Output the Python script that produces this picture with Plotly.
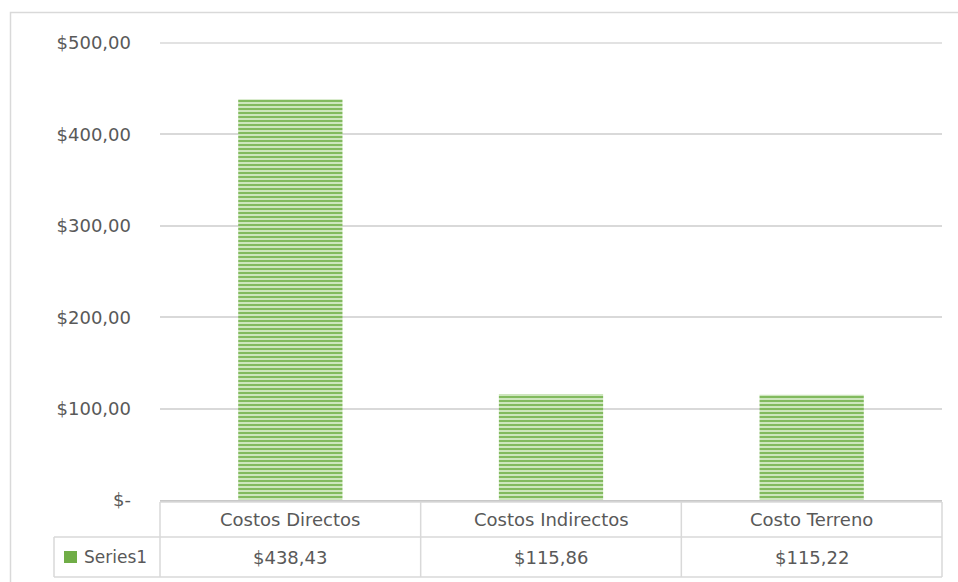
import plotly.graph_objects as go

# Cost breakdown
categories = ["Costos Directos", "Costos Indirectos", "Costo Terreno"]
values = [438.43, 115.86, 115.22]
series_name = "Series1"
tick_values = [0, 100, 200, 300, 400, 500]
tick_labels = ["$-", "$100,00", "$200,00", "$300,00", "$400,00", "$500,00"]

W, H = 958, 582
ML, MR, MT, MB = 160, 16, 43, 82
PW, PH = W - ML - MR, H - MT - MB

GREEN = "#70AD47"
GREEN_LIGHT = "#cde6bd"
GRID = "#d9d9d9"
TEXT = "#595959"
FONT = "DejaVu Sans"
FS = 18


def px_to_py(p):
    """Pixel row -> paper y."""
    return (H - MB - p) / PH


def px_to_px(p):
    """Pixel column -> paper x."""
    return (p - ML) / PW


def money(v):
    return "$" + f"{v:,.2f}".replace(",", "X").replace(".", ",").replace("X", ".")


n = len(categories)

fig = go.Figure(
    go.Bar(
        x=list(range(n)),
        y=values,
        width=0.4,
        name=series_name,
        marker=dict(
            color=GREEN_LIGHT,
            line=dict(width=0),
            pattern=dict(shape="-", fgcolor="#79b553", bgcolor=GREEN_LIGHT,
                         size=4, solidity=0.45, fillmode="replace"),
        ),
        showlegend=False,
    )
)

shapes = []
annotations = []

# outer chart frame
shapes.append(dict(type="rect", xref="paper", yref="paper",
                   x0=px_to_px(10.5), x1=px_to_px(1010), y0=px_to_py(620), y1=px_to_py(12.5),
                   line=dict(color="#d9d9d9", width=1.5), fillcolor="rgba(0,0,0,0)", layer="below"))

# top grid line at the end of the value range
shapes.append(dict(type="line", xref="paper", yref="paper", x0=0, x1=1, y0=1, y1=1,
                   line=dict(color=GRID, width=1.5), layer="below"))

# data table grid
top, mid, bot = px_to_py(502), px_to_py(537), px_to_py(577)
leg_left = px_to_px(54)
shapes.append(dict(type="line", xref="paper", yref="paper", x0=0, x1=1, y0=top, y1=top,
                   line=dict(color=GRID, width=1.5)))
shapes.append(dict(type="line", xref="paper", yref="paper", x0=leg_left, x1=1, y0=mid, y1=mid,
                   line=dict(color=GRID, width=1.5)))
shapes.append(dict(type="line", xref="paper", yref="paper", x0=leg_left, x1=1, y0=bot, y1=bot,
                   line=dict(color=GRID, width=1.5)))
shapes.append(dict(type="line", xref="paper", yref="paper", x0=leg_left, x1=leg_left, y0=mid, y1=bot,
                   line=dict(color=GRID, width=1.5)))
for i in range(n + 1):
    xp = i / n
    shapes.append(dict(type="line", xref="paper", yref="paper", x0=xp, x1=xp, y0=top, y1=bot,
                       line=dict(color=GRID, width=1.5)))

# legend key in the table
shapes.append(dict(type="rect", xref="paper", yref="paper",
                   x0=px_to_px(64), x1=px_to_px(77), y0=px_to_py(563), y1=px_to_py(551),
                   line=dict(width=0), fillcolor=GREEN))
annotations.append(dict(text=series_name, xref="paper", yref="paper",
                        x=px_to_px(82), y=(mid + bot) / 2, xanchor="left", yanchor="middle",
                        showarrow=False, font=dict(family=FONT, size=FS - 1, color=TEXT)))

for i, (cat, val) in enumerate(zip(categories, values)):
    xc = (i + 0.5) / n
    annotations.append(dict(text=cat, xref="paper", yref="paper", x=xc, y=(top + mid) / 2,
                            xanchor="center", yanchor="middle", showarrow=False,
                            font=dict(family=FONT, size=FS, color=TEXT)))
    annotations.append(dict(text=money(val), xref="paper", yref="paper", x=xc, y=(mid + bot) / 2,
                            xanchor="center", yanchor="middle", showarrow=False,
                            font=dict(family=FONT, size=FS, color=TEXT)))

fig.update_layout(
    width=W, height=H,
    margin=dict(l=ML, r=MR, t=MT, b=MB, pad=0),
    paper_bgcolor="white", plot_bgcolor="white",
    font=dict(family=FONT, size=FS, color=TEXT),
    xaxis=dict(range=[-0.5, n - 0.5], showticklabels=False, showgrid=False, zeroline=False,
               showline=True, linecolor="#c8c8c8", linewidth=2, fixedrange=True),
    yaxis=dict(range=[0, 500], tickvals=tick_values, ticktext=tick_labels,
               showgrid=True, gridcolor=GRID, gridwidth=1.5, zeroline=False,
               showline=False, ticklabelstandoff=28, fixedrange=True,
               tickfont=dict(family=FONT, size=FS, color=TEXT)),
    shapes=shapes,
    annotations=annotations,
    bargap=0.6,
)

fig.write_html("out.html")
